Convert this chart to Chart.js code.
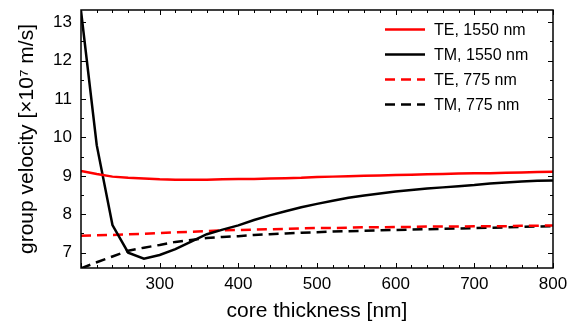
<!DOCTYPE html>
<html lang="en">
<head>
    <meta charset="UTF-8">
    <title>Group velocity vs core thickness</title>
    <style>
        html, body {
            margin: 0;
            padding: 0;
            background: #fff;
        }
        #chart-container {
            width: 569px;
            height: 326px;
        }
    </style>
    <script src="https://cdn.jsdelivr.net/npm/chart.js"></script>
</head>
<body>
    <div id="chart-container">
        <canvas id="gvChart" width="569" height="326"></canvas>
    </div>
    <script>
        // core thickness [nm]
        const thickness = [200, 220, 240, 260, 280, 300, 320, 340, 360, 380, 400,
                           420, 440, 460, 480, 500, 520, 540, 560, 580, 600,
                           620, 640, 660, 680, 700, 720, 740, 760, 780, 800];
        // group velocity [x10^7 m/s]
        const te1550 = [9.13, 9.05, 8.98, 8.95, 8.93, 8.91, 8.90, 8.90, 8.90, 8.91, 8.92,
                        8.92, 8.93, 8.94, 8.95, 8.97, 8.98, 8.99, 9.00, 9.01, 9.02,
                        9.03, 9.04, 9.05, 9.06, 9.07, 9.07, 9.08, 9.09, 9.10, 9.11];
        const tm1550 = [13.3, 9.8, 7.72, 7.00, 6.84, 6.94, 7.09, 7.29, 7.48, 7.60, 7.71,
                        7.85, 7.97, 8.08, 8.18, 8.27, 8.35, 8.43, 8.49, 8.54, 8.59,
                        8.63, 8.67, 8.70, 8.73, 8.76, 8.80, 8.83, 8.85, 8.87, 8.88];
        const te775 = [7.44, 7.45, 7.46, 7.48, 7.49, 7.51, 7.53, 7.54, 7.56, 7.58, 7.59,
                       7.60, 7.61, 7.62, 7.63, 7.64, 7.64, 7.65, 7.66, 7.66, 7.67,
                       7.67, 7.68, 7.68, 7.68, 7.69, 7.69, 7.69, 7.70, 7.70, 7.71];
        const tm775 = [6.59, 6.75, 6.90, 7.05, 7.13, 7.20, 7.28, 7.33, 7.38, 7.41, 7.43,
                       7.46, 7.48, 7.50, 7.52, 7.53, 7.55, 7.56, 7.57, 7.58, 7.59,
                       7.60, 7.61, 7.62, 7.63, 7.64, 7.65, 7.66, 7.67, 7.68, 7.69];

        const xTicks = [300, 400, 500, 600, 700, 800];
        const yTicks = [7, 8, 9, 10, 11, 12, 13];

        const FONT = "'Liberation Sans', Arial, Helvetica, sans-serif";

        function pts(values) {
            return thickness.map((t, i) => ({ x: t, y: values[i] }));
        }

        // box + inward ticks on all four sides (matlab style)
        const frameTicks = {
            id: 'frameTicks',
            afterDatasetsDraw(chart) {
                const { ctx, chartArea: a, scales: { x, y } } = chart;
                ctx.save();
                ctx.strokeStyle = '#000';
                ctx.lineWidth = 1;
                const tick = (x1, y1, x2, y2) => {
                    ctx.beginPath();
                    ctx.moveTo(x1, y1);
                    ctx.lineTo(x2, y2);
                    ctx.stroke();
                };
                for (let v = x.min; v <= x.max + 1e-6; v += 20) {
                    const px = Math.round(x.getPixelForValue(v)) + 0.5;
                    const len = (v % 100 === 0) ? 5 : 3;
                    tick(px, a.bottom, px, a.bottom - len);
                    tick(px, a.top, px, a.top + len);
                }
                for (let v = Math.ceil(y.min * 2) / 2; v <= y.max; v += 0.5) {
                    const py = Math.round(y.getPixelForValue(v)) + 0.5;
                    const len = (v % 1 === 0) ? 5 : 3;
                    tick(a.left, py, a.left + len, py);
                    tick(a.right, py, a.right - len, py);
                }
                ctx.lineWidth = 1.5;
                ctx.strokeRect(a.left, a.top, a.right - a.left, a.bottom - a.top);
                ctx.restore();
            }
        };

        // legend drawn inside the plot, top right
        const insideLegend = {
            id: 'insideLegend',
            afterDraw(chart) {
                const { ctx, chartArea: a } = chart;
                const x0 = a.right - 168;
                const y0 = a.top + 19.5;
                ctx.save();
                ctx.font = '16px ' + FONT;
                ctx.textBaseline = 'middle';
                ctx.fillStyle = '#000';
                chart.data.datasets.forEach((ds, i) => {
                    const yy = y0 + i * 25;
                    ctx.strokeStyle = ds.borderColor;
                    ctx.lineWidth = ds.borderWidth;
                    ctx.setLineDash(ds.borderDash || []);
                    ctx.beginPath();
                    ctx.moveTo(x0, yy);
                    ctx.lineTo(x0 + 40, yy);
                    ctx.stroke();
                    ctx.setLineDash([]);
                    ctx.fillText(ds.label, x0 + 49, yy + 1);
                });
                ctx.restore();
            }
        };

        new Chart(document.getElementById('gvChart'), {
            type: 'line',
            data: {
                datasets: [
                    { label: 'TE, 1550 nm', data: pts(te1550), borderColor: '#ff0000', borderWidth: 2.5 },
                    { label: 'TM, 1550 nm', data: pts(tm1550), borderColor: '#000000', borderWidth: 2.5 },
                    { label: 'TE, 775 nm', data: pts(te775), borderColor: '#ff0000', borderWidth: 2.5, borderDash: [10, 6] },
                    { label: 'TM, 775 nm', data: pts(tm775), borderColor: '#000000', borderWidth: 2.5, borderDash: [10, 6] }
                ]
            },
            options: {
                responsive: false,
                animation: false,
                layout: { padding: { left: 0, right: 16, top: 10, bottom: 0 } },
                elements: {
                    point: { radius: 0 },
                    line: { tension: 0, fill: false }
                },
                plugins: {
                    legend: { display: false },
                    tooltip: { enabled: false }
                },
                scales: {
                    x: {
                        type: 'linear',
                        min: 200,
                        max: 800,
                        afterBuildTicks: s => { s.ticks = xTicks.map(v => ({ value: v })); },
                        afterFit: s => { s.height = 58; s.paddingLeft = 0; s.paddingRight = 0; },
                        grid: { display: false, drawTicks: false },
                        border: { display: false },
                        ticks: {
                            color: '#000',
                            padding: 6,
                            maxRotation: 0,
                            font: { family: FONT, size: 17 }
                        },
                        title: {
                            display: true,
                            text: 'core thickness [nm]',
                            color: '#000',
                            padding: { top: 0, bottom: 2 },
                            font: { family: FONT, size: 21 }
                        }
                    },
                    y: {
                        type: 'linear',
                        min: 6.6,
                        max: 13.32,
                        afterBuildTicks: s => { s.ticks = yTicks.map(v => ({ value: v })); },
                        afterFit: s => { s.width = 81; s.paddingTop = 0; s.paddingBottom = 0; },
                        grid: { display: false, drawTicks: false },
                        border: { display: false },
                        ticks: {
                            color: '#000',
                            padding: 9,
                            font: { family: FONT, size: 17 }
                        },
                        title: {
                            display: true,
                            text: 'group velocity [×10⁷ m/s]',
                            color: '#000',
                            padding: { top: 15, bottom: 0 },
                            font: { family: FONT, size: 21 }
                        }
                    }
                }
            },
            plugins: [frameTicks, insideLegend]
        });
    </script>
</body>
</html>
